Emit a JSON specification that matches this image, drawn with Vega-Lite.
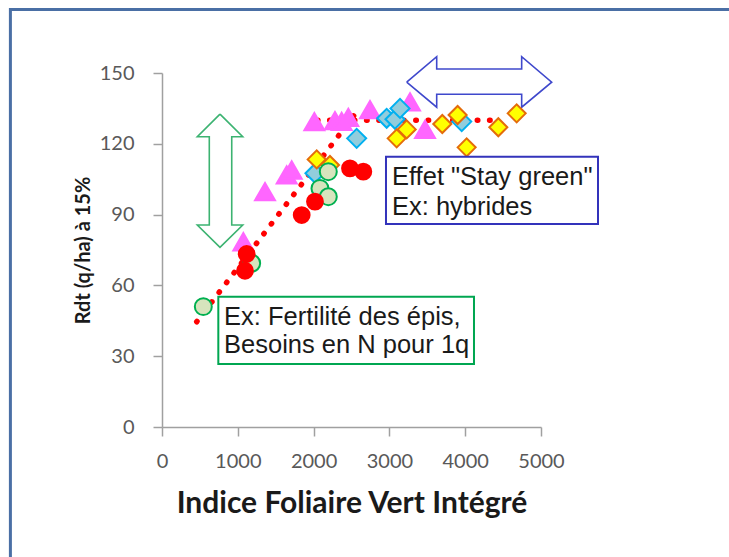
{
  "$schema": "https://vega.github.io/schema/vega-lite/v6.json",
  "width": 379,
  "height": 354,
  "autosize": {"type": "none"},
  "padding": {"left": 162, "top": 73, "right": 188, "bottom": 130},
  "background": "white",
  "config": {
    "view": {"stroke": null},
    "font": "Lato",
    "axis": {
      "grid": false,
      "domainColor": "#a0a0a0",
      "domainWidth": 1.5,
      "tickColor": "#a0a0a0",
      "tickWidth": 1.5,
      "tickSize": 9,
      "labelFont": "Lato",
      "labelFontSize": 20,
      "labelColor": "#595959",
      "labelFlush": false,
      "labelOverlap": false,
      "titleFont": "Lato",
      "titleFontWeight": "bold",
      "titleColor": "#1a1a1a"
    }
  },
  "datasets": {
    "frame": [{"x": -2000, "x2": 7800, "y": 176.9, "y2": -80}],
    "arrowGreen": [
      {"i": 0, "x": 765, "y": 132.6},
      {"i": 1, "x": 1065, "y": 123.0},
      {"i": 2, "x": 920, "y": 123.0},
      {"i": 3, "x": 920, "y": 85.6},
      {"i": 4, "x": 1065, "y": 85.6},
      {"i": 5, "x": 765, "y": 76.1},
      {"i": 6, "x": 466, "y": 85.6},
      {"i": 7, "x": 624, "y": 85.6},
      {"i": 8, "x": 624, "y": 123.0},
      {"i": 9, "x": 466, "y": 123.0},
      {"i": 10, "x": 765, "y": 132.6}
    ],
    "arrowBlue": [
      {"i": 0, "x": 3228, "y": 146.1},
      {"i": 1, "x": 3624, "y": 156.9},
      {"i": 2, "x": 3624, "y": 151.7},
      {"i": 3, "x": 4745, "y": 151.7},
      {"i": 4, "x": 4745, "y": 156.9},
      {"i": 5, "x": 5141, "y": 146.1},
      {"i": 6, "x": 4745, "y": 135.5},
      {"i": 7, "x": 4745, "y": 141.0},
      {"i": 8, "x": 3624, "y": 141.0},
      {"i": 9, "x": 3624, "y": 135.5},
      {"i": 10, "x": 3228, "y": 146.1}
    ],
    "trend": [
      {"g": "a", "x": 458, "y": 44.6},
      {"g": "a", "x": 2600, "y": 134.8},
      {"g": "b", "x": 2050, "y": 130},
      {"g": "b", "x": 4370, "y": 130}
    ],
    "points": [
      {"s": "tri", "x": 1073, "y": 78.5},
      {"s": "tri", "x": 1359, "y": 99.7},
      {"s": "tri", "x": 1645, "y": 106.8},
      {"s": "tri", "x": 1711, "y": 108.9},
      {"s": "tri", "x": 2010, "y": 129.4},
      {"s": "tri", "x": 2282, "y": 129.8},
      {"s": "tri", "x": 2370, "y": 129.5},
      {"s": "tri", "x": 2458, "y": 131.2},
      {"s": "tri", "x": 2744, "y": 134.5},
      {"s": "tri", "x": 3272, "y": 137.8},
      {"s": "tri", "x": 3470, "y": 126.1},
      {"s": "bleu", "x": 2018, "y": 107.5},
      {"s": "bleu", "x": 2568, "y": 122.3},
      {"s": "bleu", "x": 2964, "y": 130.8},
      {"s": "bleu", "x": 3074, "y": 130.4},
      {"s": "bleu", "x": 3140, "y": 135},
      {"s": "bleu", "x": 3954, "y": 129.4},
      {"s": "jaune", "x": 2041, "y": 113.4},
      {"s": "jaune", "x": 2216, "y": 111},
      {"s": "jaune", "x": 3096, "y": 122.3},
      {"s": "jaune", "x": 3228, "y": 126.1},
      {"s": "jaune", "x": 3698, "y": 128.4},
      {"s": "jaune", "x": 3900, "y": 132.2},
      {"s": "jaune", "x": 4019, "y": 118.5},
      {"s": "jaune", "x": 4437, "y": 127},
      {"s": "jaune", "x": 4679, "y": 132.9},
      {"s": "vert", "x": 545, "y": 51},
      {"s": "vert", "x": 1183, "y": 69.4},
      {"s": "vert", "x": 2084, "y": 101.1},
      {"s": "vert", "x": 2194, "y": 108.2},
      {"s": "vert", "x": 2194, "y": 97.6},
      {"s": "rouge", "x": 1117, "y": 73.3},
      {"s": "rouge", "x": 1095, "y": 66.2},
      {"s": "rouge", "x": 1843, "y": 89.8},
      {"s": "rouge", "x": 2018, "y": 95.5},
      {"s": "rouge", "x": 2480, "y": 109.6},
      {"s": "rouge", "x": 2656, "y": 108.2}
    ],
    "boxGreen": [{"x": 743, "x2": 4116, "y": 55.2, "y2": 26.7}],
    "boxBlue": [{"x": 2955, "x2": 5752, "y": 114.5, "y2": 86.0}],
    "labels": [
      {"x": 818, "y": 46.7, "t": "Ex: Fertilité des épis,"},
      {"x": 818, "y": 34.7, "t": "Besoins en N pour 1q"},
      {"x": 3034, "y": 106.1, "t": "Effet \"Stay green\""},
      {"x": 3034, "y": 93.3, "t": "Ex: hybrides"}
    ]
  },
  "encoding": {
    "x": {
      "field": "x",
      "type": "quantitative",
      "scale": {"domain": [0, 5000], "nice": false, "zero": false},
      "axis": {
        "title": "Indice Foliaire Vert Intégré",
        "values": [0, 1000, 2000, 3000, 4000, 5000],
        "format": "d",
        "labelPadding": 15,
        "titlePadding": 17,
        "titleFontSize": 30
      }
    },
    "y": {
      "field": "y",
      "type": "quantitative",
      "scale": {"domain": [0, 150], "nice": false, "zero": false},
      "axis": {
        "title": "Rdt (q/ha) à 15%",
        "values": [0, 30, 60, 90, 120, 150],
        "labelPadding": 19,
        "titlePadding": 6,
        "titleFontSize": 20
      }
    }
  },
  "layer": [
    {
      "data": {"name": "frame"},
      "mark": {"type": "rect", "fillOpacity": 0, "stroke": "#4a6fa5", "strokeWidth": 3},
      "encoding": {"x2": {"field": "x2"}, "y2": {"field": "y2"}}
    },
    {
      "data": {"name": "arrowGreen"},
      "mark": {"type": "line", "stroke": "#3cb371", "strokeWidth": 1.6, "fill": "white", "strokeJoin": "miter"},
      "encoding": {"order": {"field": "i", "type": "quantitative"}}
    },
    {
      "data": {"name": "arrowBlue"},
      "mark": {"type": "line", "stroke": "#3f48cc", "strokeWidth": 1.6, "fill": "white", "strokeJoin": "miter"},
      "encoding": {"order": {"field": "i", "type": "quantitative"}}
    },
    {
      "data": {"name": "trend"},
      "mark": {"type": "line", "stroke": "#ff0000", "strokeWidth": 5.5, "strokeDash": [0.5, 11.8], "strokeCap": "round"},
      "encoding": {"detail": {"field": "g"}}
    },
    {
      "data": {"name": "points"},
      "mark": {"type": "point", "strokeWidth": 2, "opacity": 1},
      "encoding": {
        "shape": {"field": "s", "type": "nominal", "legend": null,
          "scale": {"domain": ["tri", "bleu", "jaune", "vert", "rouge"], "range": ["triangle-up", "diamond", "diamond", "circle", "circle"]}},
        "fill": {"field": "s", "type": "nominal", "legend": null,
          "scale": {"domain": ["tri", "bleu", "jaune", "vert", "rouge"], "range": ["#ff66ff", "#92cddc", "#ffff00", "#d7e4bd", "#ff0000"]}},
        "stroke": {"field": "s", "type": "nominal", "legend": null,
          "scale": {"domain": ["tri", "bleu", "jaune", "vert", "rouge"], "range": ["#ff66ff", "#00b0f0", "#e46c0a", "#00b050", "#ff0000"]}},
        "size": {"field": "s", "type": "nominal", "legend": null,
          "scale": {"domain": ["tri", "bleu", "jaune", "vert", "rouge"], "range": [400, 250, 250, 130, 200]}}
      }
    },
    {
      "data": {"name": "boxGreen"},
      "mark": {"type": "rect", "fill": "white", "stroke": "#00a651", "strokeWidth": 2},
      "encoding": {"x2": {"field": "x2"}, "y2": {"field": "y2"}}
    },
    {
      "data": {"name": "boxBlue"},
      "mark": {"type": "rect", "fill": "white", "stroke": "#3333bb", "strokeWidth": 2},
      "encoding": {"x2": {"field": "x2"}, "y2": {"field": "y2"}}
    },
    {
      "data": {"name": "labels"},
      "mark": {"type": "text", "align": "left", "baseline": "middle", "font": "Liberation Sans", "fontSize": 25.5, "color": "#1a1a1a"},
      "encoding": {"text": {"field": "t"}}
    }
  ]
}
